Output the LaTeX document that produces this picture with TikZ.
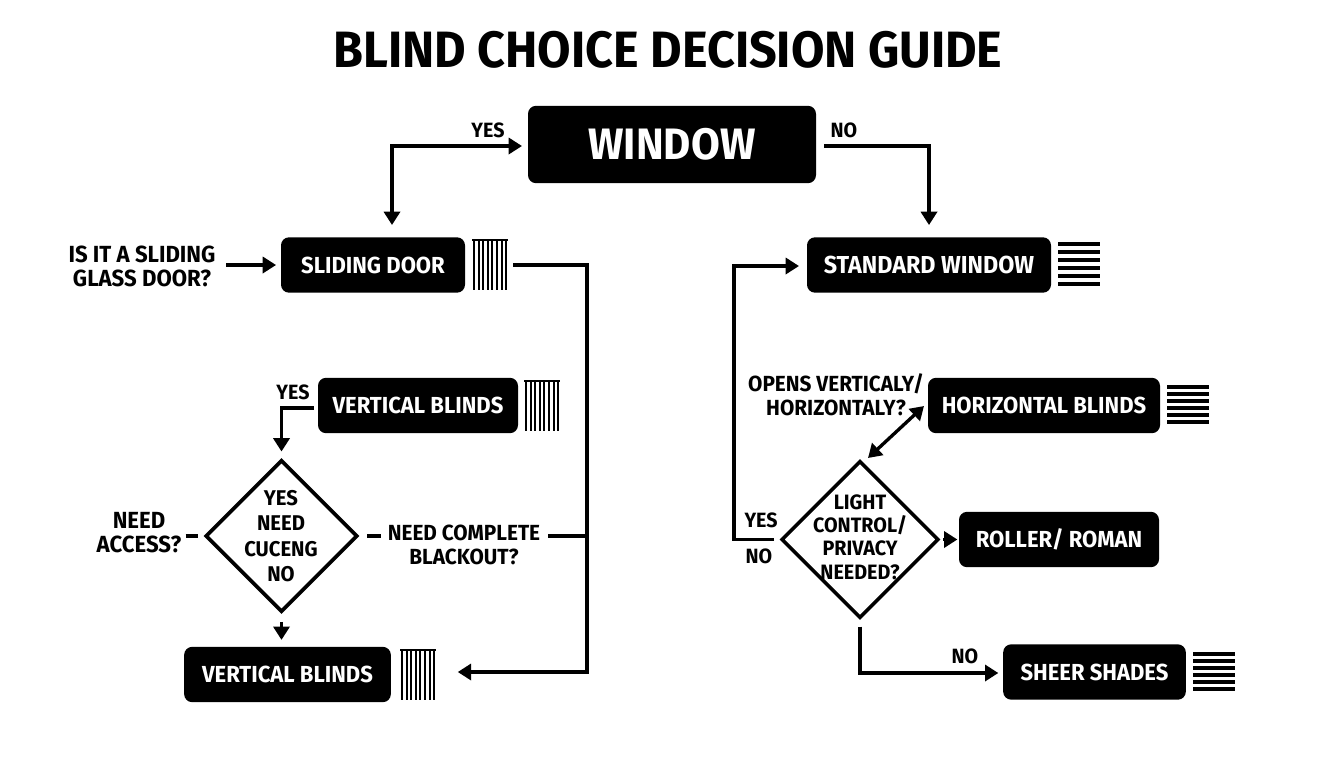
\documentclass[tikz,border=0pt]{standalone}
\usepackage{fontspec}
\setmainfont[FakeStretch=0.95]{Fira Sans}
\usetikzlibrary{shapes.geometric,arrows.meta}
\tikzset{
  box/.style={fill=black, text=white, rounded corners=6pt, inner sep=0pt, minimum height=41.5pt, font=\fontsize{17.4}{20}\bfseries},
  label/.style={align=center, inner sep=0pt, font=\fontsize{17.5}{18}\bfseries},
  smalllabel/.style={label, font=\fontsize{16.4}{18}\bfseries},
  tag/.style={inner sep=0pt, font=\fontsize{15.5}{16}\bfseries},
  choice/.style={draw, diamond, aspect=1, line width=2.7pt, inner sep=0pt},
  conn/.style={line width=2.5pt, -{Triangle[length=10pt,width=12pt]}},
  both/.style={line width=2.5pt, {Triangle[length=10pt,width=12pt]}-{Triangle[length=10pt,width=12pt]}},
  plain/.style={line width=2.5pt}
}
% Icono de persiana vertical y horizontal
\newcommand{\vblind}[2]{
  \draw[line width=2.2pt] (#1,#2) -- ++(36,0);
  \foreach \i in {0,...,7} \draw[line width=1.6pt] (#1+2+\i*4.6,#2) -- ++(0,50);
}
\newcommand{\hblind}[3]{
  \foreach \i in {0,...,5} \draw[line width=2.6pt] (#1,#2+\i*#3) -- ++(42,0);
}
\begin{document}
\begin{tikzpicture}[x=0.75pt,y=-0.75pt]
  \useasboundingbox (0,0) rectangle (1344,768);
  % Titulo
  \node[inner sep=0pt, font=\fontsize{38.3}{40}\bfseries] (title) at (668,50) {BLIND CHOICE DECISION GUIDE};
  % Cajas
  \node[box, minimum width=216pt, minimum height=58pt, font=\fontsize{33}{36}\bfseries] (window) at (672,144.5) {WINDOW};
  \node[box, minimum width=138pt] (sliding) at (373,265) {SLIDING DOOR};
  \node[box, minimum width=183pt, font=\fontsize{18.4}{20}\bfseries] (standard) at (929,265) {STANDARD WINDOW};
  \node[box, minimum width=150pt] (vertical) at (418,405.5) {VERTICAL BLINDS};
  \node[box, minimum width=174pt] (horizontal) at (1044,405.5) {HORIZONTAL BLINDS};
  \node[box, minimum width=150pt] (roller) at (1059,539.5) {ROLLER/ ROMAN};
  \node[box, minimum width=137pt] (sheer) at (1094.5,672) {SHEER SHADES};
  \node[box, minimum width=155pt] (verticalb) at (287.5,674.5) {VERTICAL BLINDS};
  % Rombos
  \node[choice, minimum width=114pt, minimum height=114pt] (access) at (281.5,536) {};
  \node[choice, minimum width=118pt, minimum height=118pt] (light) at (860,539.5) {};
  \node[smalllabel, font=\fontsize{16}{18}\bfseries] (accesstxt) at (281,536) {YES\\[1pt]NEED\\[1pt]CUCENG\\[1pt]NO};
  \node[smalllabel, font=\fontsize{15.6}{17.5}\bfseries] (lighttxt) at (860,537) {LIGHT\\CONTROL/\\PRIVACY\\NEEDED?};
  % Textos
  \node[label] (glassq) at (142,266) {IS IT A SLIDING\\GLASS DOOR?};
  \node[label] (accessq) at (139,533) {NEED\\ACCESS?};
  \node[smalllabel] (blackq) at (464,545) {NEED COMPLETE\\BLACKOUT?};
  \node[smalllabel] (opensq) at (836,395) {OPENS VERTICALY/\\HORIZONTALY?};
  \node[tag] (yesa) at (488,130) {YES};
  \node[tag] (noa) at (844,130) {NO};
  \node[tag] (yesb) at (293,392) {YES};
  \node[tag] (yesc) at (761,520) {YES};
  \node[tag] (noc) at (759,556) {NO};
  \node[tag] (nod) at (965,656) {NO};
  % Iconos
  \vblind{472}{240}
  \vblind{524}{381}
  \vblind{400}{650}
  \hblind{1058}{244}{8}
  \hblind{1167}{387}{7}
  \hblind{1193}{654}{7}
  % Puntos de paso
  \coordinate (wleft) at (528,146);
  \coordinate (wright) at (816,146);
  \coordinate (sliddrop) at (392,237);
  \coordinate (trunk) at (587,672);
  \coordinate (stdin) at (807,266);
  \coordinate (backup) at (734,539.5);
  \coordinate (vertout) at (318,408);
  \coordinate (sheerin) at (1003,673);
  \coordinate (openstip) at (924,406);
  \coordinate (lighttip) at (868,458);
  % Conectores
  \draw[both, shorten <=4.5pt, shorten >=9pt] (wleft) -| (sliddrop);
  \draw[conn, shorten <=6pt, shorten >=9pt] (wright) -| (standard.north);
  \draw[conn, shorten <=8pt, shorten >=3.5pt] (glassq.east |- sliding) -- (sliding.west);
  \draw[conn, shorten <=36pt, shorten >=50pt] (sliding.east) -| (trunk) -- (verticalb.east |- trunk);
  \draw[plain, shorten <=6pt] (blackq.east |- access) -- (trunk |- access);
  \draw[plain, shorten <=6pt, shorten >=5pt] (access.east) -- (blackq.west |- access);
  \draw[plain, shorten <=3pt, shorten >=4pt] (accessq.east |- access) -- (access.west);
  \draw[conn, shorten <=3pt, shorten >=5pt] (vertout) -| (access.north);
  \draw[conn, shorten <=6pt, shorten >=5pt] (access.south) -- (access.south |- verticalb.north);
  \draw[conn, shorten <=4pt, shorten >=6pt] (light.west) -- (backup) |- (stdin);
  \draw[both] (lighttip) -- (openstip);
  \draw[conn, shorten <=2pt, shorten >=1pt] (light.east) -- (roller.west);
  \draw[conn, shorten <=5pt, shorten >=3.5pt] (light.south) |- (sheerin);
\end{tikzpicture}
\end{document}
